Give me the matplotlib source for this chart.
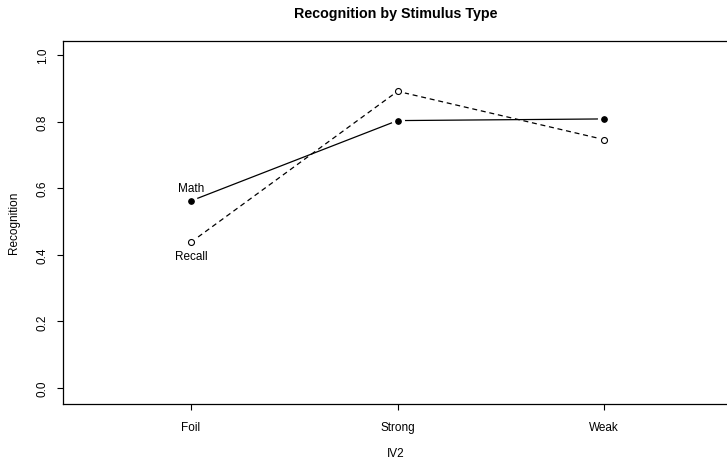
import matplotlib
matplotlib.use("Agg")
import matplotlib.pyplot as plt

plt.rcParams['font.family'] = ['Liberation Sans', 'DejaVu Sans']

categories = ["Foil", "Strong", "Weak"]
math_vals = [0.562, 0.803, 0.808]
recall_vals = [0.438, 0.891, 0.746]
yticks = [0.0, 0.2, 0.4, 0.6, 0.8, 1.0]
ytick_labels = ["0.0", "0.2", "0.4", "0.6", "0.8", "1.0"]

fig = plt.figure(figsize=(7.27, 4.60), dpi=100)
ax = fig.add_axes([63/727, 1-405/460, 666/727, 363/460])
x = list(range(1, len(categories)+1))

lw = 0.9
ax.plot(x, math_vals, color='black', lw=lw, ls='-', zorder=2)
ax.plot(x, recall_vals, color='black', lw=lw, ls=(0, (4, 3)), zorder=2)
# white halos to create gaps like R type="b"
ax.plot(x, math_vals, ls='none', marker='o', ms=9.5, mfc='white', mec='none', zorder=3)
ax.plot(x, recall_vals, ls='none', marker='o', ms=9.5, mfc='white', mec='none', zorder=3)
ax.plot(x, math_vals, ls='none', marker='o', ms=4.0, mfc='black', mec='black', mew=0.8, zorder=4)
ax.plot(x, recall_vals, ls='none', marker='o', ms=4.3, mfc='white', mec='black', mew=0.8, zorder=4)

ax.annotate("Math", (x[0], math_vals[0]), xytext=(0, 9), textcoords='offset points',
            ha='center', va='center', fontsize=8.5)
ax.annotate("Recall", (x[0], recall_vals[0]), xytext=(0, -10), textcoords='offset points',
            ha='center', va='center', fontsize=8.5)

ax.set_xlim(0.38, 3.605)
ax.set_ylim(-0.048, 1.042)
ax.set_xticks(x)
ax.set_xticklabels(categories, fontsize=8.5)
ax.set_yticks(yticks)
ax.set_yticklabels(ytick_labels, fontsize=8.5, rotation=90, va='center')
ax.tick_params(axis='both', length=4.3, width=0.8, direction='out')
ax.tick_params(axis='x', pad=8)
ax.tick_params(axis='y', pad=6)
for s in ax.spines.values():
    s.set_linewidth(0.9)

fig.text(396/727, 1-14/460, "Recognition by Stimulus Type", ha='center', va='center',
         fontsize=10.3, fontweight='bold')
fig.text(396/727, 1-454/460, "IV2", ha='center', va='center', fontsize=8.5)
fig.text(14/727, 1-223/460, "Recognition", ha='center', va='center', fontsize=8.5, rotation=90)

fig.savefig("out.png", dpi=100)
